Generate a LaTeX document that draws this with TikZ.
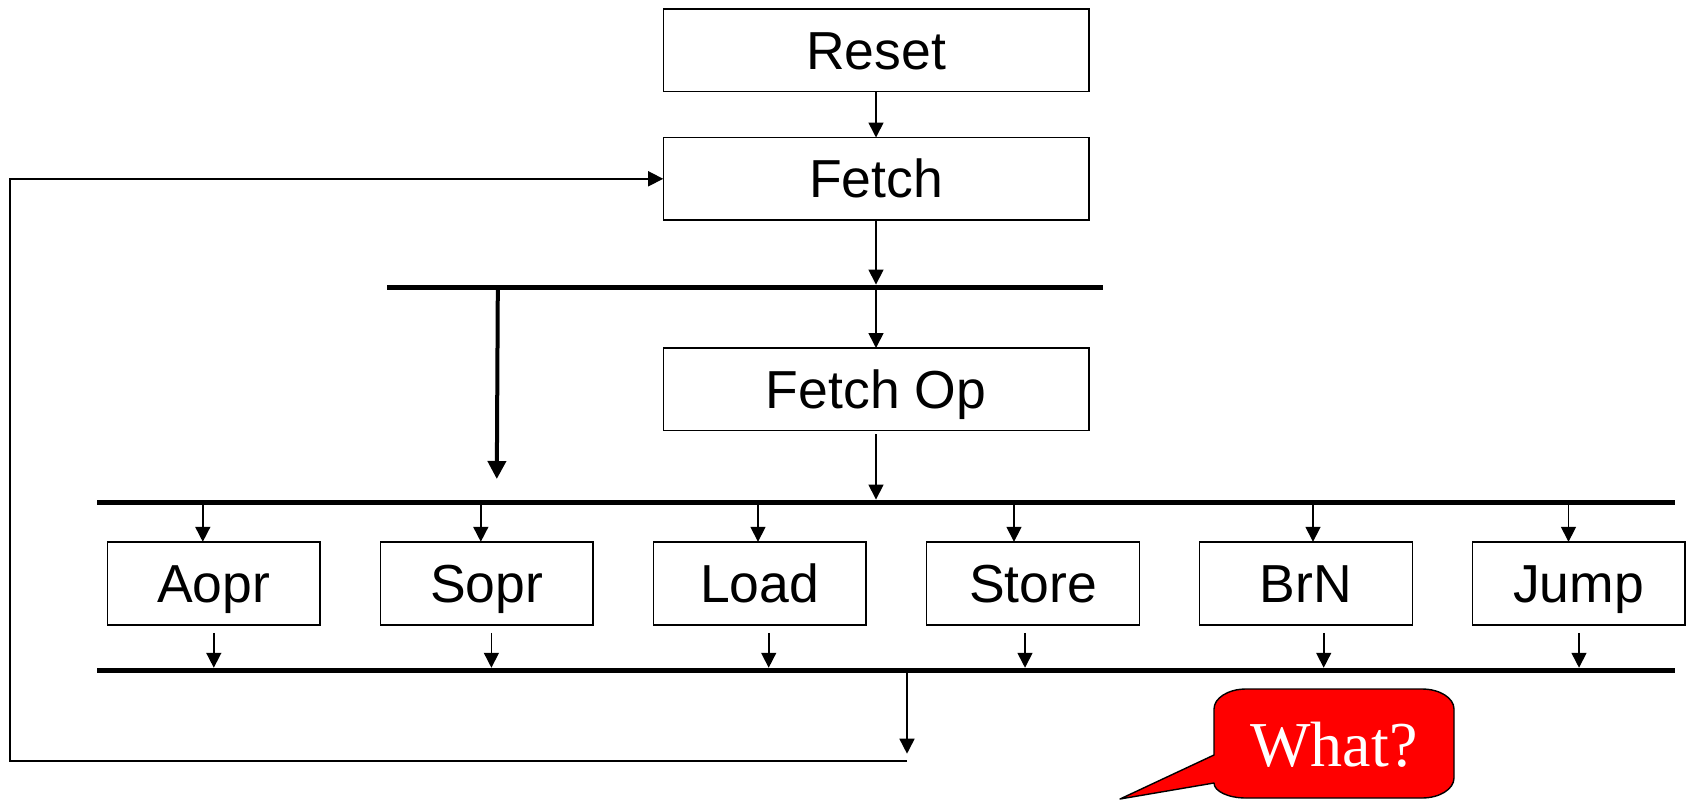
\documentclass[tikz,border=0pt]{standalone}
\usepackage{fontspec}
\setmainfont{Liberation Sans}
\newfontfamily\calloutfont{Liberation Serif}
\usetikzlibrary{arrows.meta}

\begin{document}
\begin{tikzpicture}[x=1pt,y=-1pt,
  box/.style={draw, line width=1.4pt, minimum width=212.6pt, minimum height=83pt,
    inner sep=0pt, outer sep=0pt, text height=38.3pt, text depth=0pt,
    font=\fontsize{53.5}{60}\selectfont},
  bigbox/.style={box, minimum width=425.6pt, minimum height=82.6pt},
  bar/.style={fill=black, inner sep=0pt, outer sep=0pt, minimum height=5.5pt},
  arr/.style={line width=1.6pt, -{Triangle[length=15pt,width=15pt]}},
  thickarr/.style={line width=4pt, -{Triangle[length=18pt,width=18pt]}},
  callout/.style={fill=red, draw=black, line width=1.4pt, line join=round},
]
\useasboundingbox (0,0) rectangle (1686,800);

% main sequence
\node[bigbox] (reset)   at (876,50.3)  {Reset};
\node[bigbox] (fetch)   at (876,178.8) {Fetch};
\node[bigbox] (fetchop) at (876,389.3) {Fetch Op};

% bus bars
\node[bar, minimum width=716pt]  (bar1) at (745,287.3) {};
\node[bar, minimum width=1578pt] (bar2) at (886,502.3) {};
\node[bar, minimum width=1578pt] (bar3) at (886,670.5) {};

% instruction boxes
\node[box] (aopr)  at (213.8,583.3)  {Aopr};
\node[box] (sopr)  at (486.8,583.3)  {Sopr};
\node[box] (load)  at (759.7,583.3)  {Load};
\node[box] (store) at (1033,583.3)   {Store};
\node[box] (brn)   at (1306,583.3)   {BrN};
\node[box] (jump)  at (1578.5,583.3) {Jump};

% top of the chain
\draw[arr] (reset.south) -- (fetch.north);
\draw[arr] (fetch.south) -- (fetch.south |- bar1.north);
\draw[arr] (fetch.south |- bar1.south) -- (fetchop.north);
\coordinate (fo) at ([yshift=-3.5pt]fetchop.south);
\draw[arr] (fo) -- (fo |- bar2.north);

% bypass from the first bar
\coordinate (tktop) at (497.8,0);
\coordinate (tkend) at (496.8,479);
\draw[thickarr] (tktop |- bar1.south) -- (tkend);

% bar2 into each box
\coordinate (ia) at ([xshift=-11pt]aopr.north);
\coordinate (is) at ([xshift=-6pt]sopr.north);
\coordinate (il) at ([xshift=-1.7pt]load.north);
\coordinate (it) at ([xshift=-19pt]store.north);
\coordinate (ib) at ([xshift=7pt]brn.north);
\coordinate (ij) at ([xshift=-10pt]jump.north);
\foreach \c in {ia,is,il,it,ib,ij}
  \draw[arr] (\c |- bar2.south) -- (\c);

% each box out to bar3
\coordinate (oa) at ([xshift=0pt,yshift=-8pt]aopr.south);
\coordinate (os) at ([xshift=4.6pt,yshift=-8pt]sopr.south);
\coordinate (ol) at ([xshift=9pt,yshift=-8pt]load.south);
\coordinate (ot) at ([xshift=-8pt,yshift=-8pt]store.south);
\coordinate (ob) at ([xshift=17.7pt,yshift=-8pt]brn.south);
\coordinate (oj) at ([xshift=0.5pt,yshift=-8pt]jump.south);
\foreach \c in {oa,os,ol,ot,ob,oj}
  \draw[arr] (\c) -- (\c |- bar3.north);

% loop back to Fetch
\coordinate (dn) at (907,0);
\coordinate (corner) at (907,760.7);
\coordinate (lft) at (10,760.7);
\draw[arr, shorten >=7pt] (dn |- bar3.south) -- (corner);
\draw[arr] (corner) -- (lft) |- (fetch.west);

% speech bubble
\draw[callout] (1214,755) -- (1214,709)
  .. controls (1214,698) and (1228.3,689) .. (1246,689) -- (1422,689)
  .. controls (1439.7,689) and (1454,698) .. (1454,709) -- (1454,778)
  .. controls (1454,789) and (1439.7,798) .. (1422,798) -- (1246,798)
  .. controls (1228.3,798) and (1214,791.3) .. (1214,783)
  -- (1120,799) -- cycle;
\node[anchor=base, text=white, inner sep=0pt,
  font=\calloutfont\fontsize{64}{70}\selectfont] (what) at (1334,766) {What?};
\end{tikzpicture}
\end{document}
